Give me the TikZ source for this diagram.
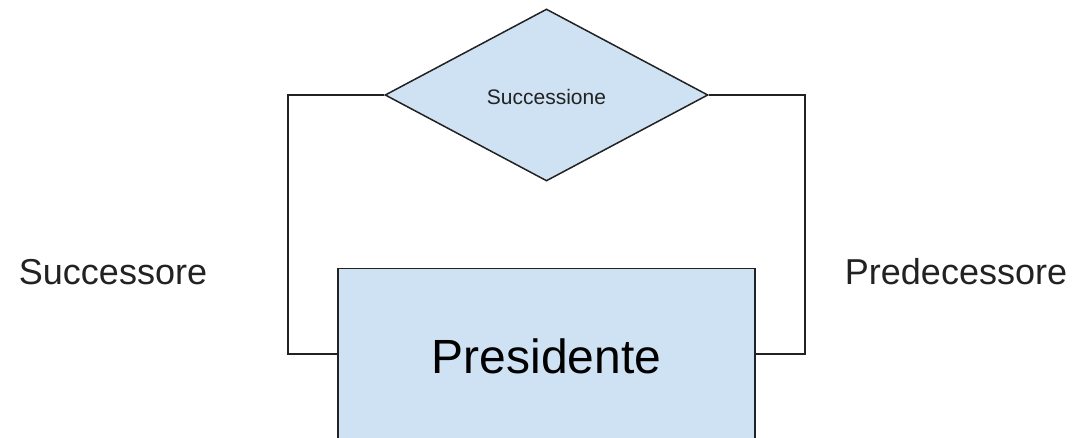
\documentclass[tikz,border=0pt]{standalone}
\usepackage{fontspec}
\setmainfont{Liberation Sans}
\usetikzlibrary{shapes.geometric}
\definecolor{boxfill}{HTML}{CFE2F3}
\definecolor{edge}{HTML}{222222}
\begin{document}
\begin{tikzpicture}[x=1pt,y=1pt,
  shapeline/.style={draw=edge,line width=1.5pt,fill=boxfill},
  conn/.style={draw=edge,line width=1.5pt},
  lbl/.style={inner sep=0pt,anchor=base}]
\useasboundingbox (0,0) rectangle (1081,-438);
\node[shapeline,diamond,minimum width=323pt,minimum height=172pt,inner sep=0pt] (succ) at (546.5,-95) {};
\node[lbl,font=\fontsize{21}{25}\selectfont,text=edge] (succt) at (546.5,-105) {Successione};
\node[shapeline,rectangle,minimum width=417pt,minimum height=180pt,inner sep=0pt,anchor=north] (pres) at (546.5,-268) {};
\node[lbl,font=\fontsize{48}{56}\selectfont] (prest) at (546.5,-373) {Presidente};
\node[lbl,font=\fontsize{36}{42}\selectfont,text=edge] (l1) at (113,-284) {Successore};
\node[lbl,font=\fontsize{36}{42}\selectfont,text=edge] (l2) at (956,-284) {Predecessore};
\coordinate (lc) at (288,-354);
\coordinate (rc) at (805,-354);
\draw[conn] (succ.west) -| (lc) -- (lc -| pres.west);
\draw[conn] (succ.east) -| (rc) -- (rc -| pres.east);
\end{tikzpicture}
\end{document}
